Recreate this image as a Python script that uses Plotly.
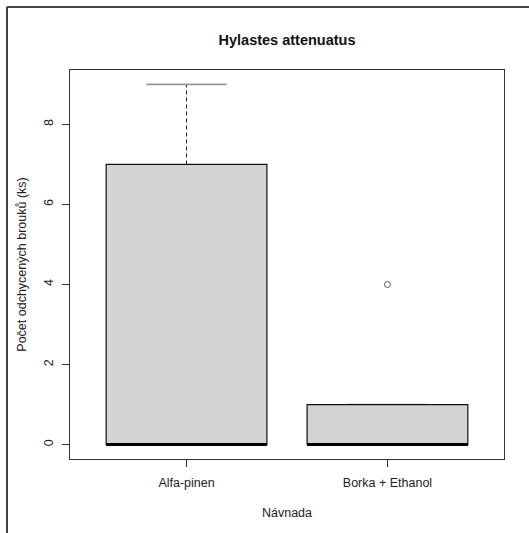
import plotly.graph_objects as go

# Bait categories and five-number summaries of beetle counts
categories = ["Alfa-pinen", "Borka + Ethanol"]
whisker_low = [0, 0]
q1 = [0, 0]
median = [0, 0]
q3 = [7, 1]
whisker_high = [9, 1]
outliers = [[], [4]]

y_ticks = [0, 2, 4, 6, 8]

BOX_HALF = 0.4
CAP_HALF = 0.2
FONT = "Liberation Sans, Arial, sans-serif"

fig = go.Figure()

for i, name in enumerate(categories):
    pos = i + 1
    # whiskers (dashed) from box edges to the extremes
    for a, b in ((q3[i], whisker_high[i]), (whisker_low[i], q1[i])):
        fig.add_trace(go.Scatter(x=[pos, pos], y=[a, b], mode="lines",
                                 line=dict(color="#222", width=1, dash="4px,3px"),
                                 hoverinfo="skip", showlegend=False))
    # whisker caps
    for v in (whisker_low[i], whisker_high[i]):
        fig.add_trace(go.Scatter(x=[pos - CAP_HALF, pos + CAP_HALF], y=[v, v], mode="lines",
                                 line=dict(color="#999", width=1.6),
                                 hoverinfo="skip", showlegend=False))
    # box
    fig.add_trace(go.Scatter(
        x=[pos - BOX_HALF, pos + BOX_HALF, pos + BOX_HALF, pos - BOX_HALF, pos - BOX_HALF],
        y=[q1[i], q1[i], q3[i], q3[i], q1[i]],
        mode="lines", fill="toself", fillcolor="#d3d3d3",
        line=dict(color="#111", width=1.2), name=name, showlegend=False))
    # median
    fig.add_trace(go.Scatter(x=[pos - BOX_HALF, pos + BOX_HALF], y=[median[i], median[i]],
                             mode="lines", line=dict(color="black", width=3),
                             hoverinfo="skip", showlegend=False))
    # outliers
    if outliers[i]:
        fig.add_trace(go.Scatter(x=[pos] * len(outliers[i]), y=outliers[i], mode="markers",
                                 marker=dict(symbol="circle-open", size=6,
                                             line=dict(color="#555", width=1), color="#555"),
                                 showlegend=False))

W, H = 529, 533
ML, MR, MT, MB = 70, 25, 70, 74
pw, ph = W - ML - MR, H - MT - MB

fig.update_layout(
    width=W, height=H,
    margin=dict(l=ML, r=MR, t=MT, b=MB),
    paper_bgcolor="white", plot_bgcolor="white",
    font=dict(family=FONT, size=12.5, color="#222"),
    title=dict(text="<b>Hylastes attenuatus</b>", x=0.5, xref="paper",
               y=1 - 40 / H, yref="container", yanchor="middle", xanchor="center",
               font=dict(size=14.5, family=FONT, color="#111")),
    xaxis=dict(range=[0.42, 2.58], tickvals=[1, 2], ticktext=categories,
               showgrid=False, zeroline=False, showline=True, mirror=True,
               linecolor="#333", linewidth=1, ticks="outside", ticklen=7,
               tickcolor="#333", ticklabelstandoff=5,
               title=dict(text="Návnada", standoff=19, font=dict(size=12.5))),
    yaxis=dict(range=[-0.36, 9.36], tickvals=y_ticks, ticktext=[str(t) for t in y_ticks],
               showgrid=False, zeroline=False, showline=True, mirror=True,
               linecolor="#333", linewidth=1, ticks="outside", ticklen=7,
               tickcolor="#333", tickangle=-90, ticklabelstandoff=4,
               title=dict(text="Počet odchycených brouků (ks)", standoff=12,
                          font=dict(size=12.5))),
    shapes=[
        dict(type="line", xref="paper", yref="paper",
             x0=(7 - ML) / pw, x1=(7 - ML) / pw, y0=1 + (MT - 7) / ph, y1=-(MB + 5) / ph,
             line=dict(color="#444", width=2)),
        dict(type="line", xref="paper", yref="paper",
             x0=(7 - ML) / pw, x1=1 + (MR + 5) / pw, y0=1 + (MT - 7) / ph, y1=1 + (MT - 7) / ph,
             line=dict(color="#444", width=2)),
    ],
)

fig.write_html("out.html")
